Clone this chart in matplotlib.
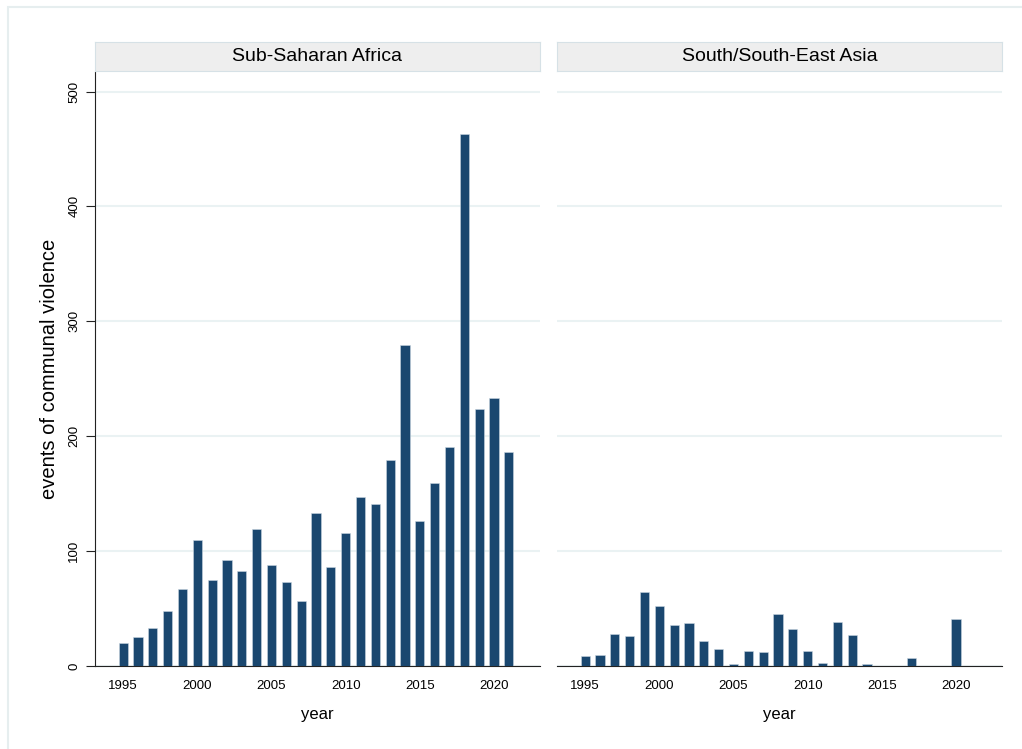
import matplotlib
matplotlib.use('Agg')
import matplotlib.pyplot as plt
from matplotlib.patches import Rectangle

plt.rcParams['font.family'] = ['Liberation Sans', 'DejaVu Sans']

# events of communal violence per year, by region
years = list(range(1995, 2022))
africa = [20, 25, 33, 48, 67, 110, 75, 92, 83, 119, 88, 73, 57, 133, 86, 116,
          147, 141, 179, 279, 126, 159, 191, 463, 224, 233, 186]
asia = [9, 10, 28, 26, 64, 52, 36, 37, 22, 15, 2, 13, 12, 45, 32, 13,
        3, 38, 27, 2, 0, 0, 7, 0, 0, 41, 0]
panels = ['Sub-Saharan Africa', 'South/South-East Asia']
xticks = [1995, 2000, 2005, 2010, 2015, 2020]
yticks = [0, 100, 200, 300, 400, 500]

W, H = 1022, 749
bar_color = '#1a476f'
grid_color = '#eaf2f3'


def fx(px):
    return px / W


def fy(py):
    return 1 - py / H


fig = plt.figure(figsize=(W / 100, H / 100), dpi=100)
# outer graph region border (runs off the right and bottom edge)
fig.patches.append(Rectangle((fx(8), fy(760)), fx(1030), 753 / H, transform=fig.transFigure,
                             fill=False, edgecolor='#e6eeef', linewidth=1.5))

for i, (name, vals) in enumerate(zip(panels, [africa, asia])):
    left = 95 if i == 0 else 557
    ax = fig.add_axes([fx(left), fy(666), fx(445), 594 / H])
    ax.bar(years, vals, width=0.62, color=bar_color, edgecolor='#c9d6e0', linewidth=0.4, zorder=3)
    ax.set_xlim(1993.1, 2023.1)
    ax.set_ylim(0, 517)
    ax.set_yticks(yticks)
    ax.set_xticks(xticks)
    ax.grid(axis='y', color=grid_color, linewidth=1.5, zorder=0)
    for s in ['top', 'right']:
        ax.spines[s].set_visible(False)
    ax.spines['bottom'].set_color('#222222')
    ax.tick_params(axis='x', labelsize=9.5, length=0, pad=10)
    if i == 0:
        ax.spines['left'].set_color('#222222')
        ax.tick_params(axis='y', labelsize=9.5, length=6.5, color='#222222', pad=4)
        for lab in ax.get_yticklabels():
            lab.set_rotation(90)
            lab.set_va('center')
        ax.set_ylabel('events of communal violence', fontsize=14.5, labelpad=7)
    else:
        ax.spines['left'].set_visible(False)
        ax.tick_params(axis='y', left=False, labelleft=False)
    ax.set_xlabel('year', fontsize=12, labelpad=11)

    strip = fig.add_axes([fx(left), fy(71), fx(445), 29 / H])
    strip.set_facecolor('#eeeeee')
    strip.set_xticks([])
    strip.set_yticks([])
    for s in strip.spines.values():
        s.set_color('#d6e1e6')
    strip.text(0.5, 0.5, name, ha='center', va='center', fontsize=14, transform=strip.transAxes)

fig.savefig('out.png', dpi=100, facecolor='white')
